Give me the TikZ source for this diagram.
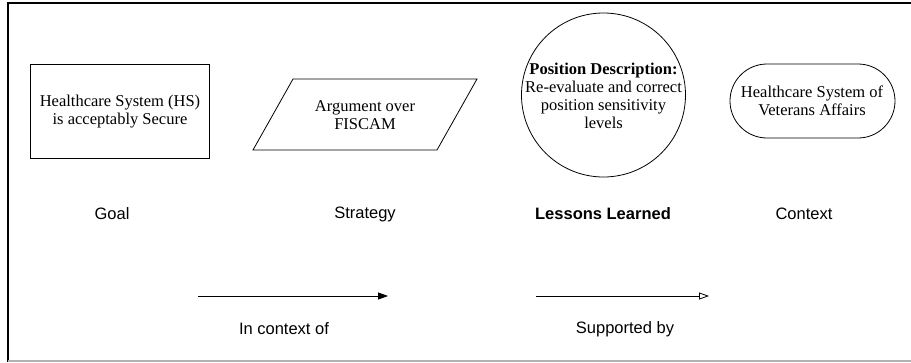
\documentclass[tikz,border=0pt]{standalone}
\usepackage{fontspec}
\setmainfont{Liberation Serif}
\setsansfont{Liberation Sans}
\usetikzlibrary{arrows.meta}
\tikzset{
  shapetext/.style={font=\fontsize{16.5}{18}\selectfont, align=center, inner sep=0pt},
  legendtext/.style={font=\sffamily\fontsize{16.5}{18}\selectfont, inner sep=0pt},
  outline/.style={draw=black, line width=0.8pt},
  linkline/.style={draw=black, line width=0.8pt}
}
\begin{document}
\begin{tikzpicture}[x=1pt,y=-1pt]
\useasboundingbox (0,0) rectangle (911,362);
% frame
\draw[line width=1.2pt, black] (8,362) -- (8,3) -- (911,3);
\draw[line width=1.2pt, gray!60] (8,361) -- (911,361);

% Goal
\node[outline, rectangle, minimum width=179pt, minimum height=94pt, inner sep=0pt] (goal) at (119.5,111) {};
\node[shapetext] (goaltext) at (120,112) {Healthcare System (HS)\\is acceptably Secure};

% Strategy
\coordinate (p1) at (293,79);
\coordinate (p2) at (477,79);
\coordinate (p3) at (437,150);
\coordinate (p4) at (253,150);
\draw[outline] (p1) -- (p2) -- (p3) -- (p4) -- cycle;
\node[shapetext] (strategy) at (365,115) {Argument over\\FISCAM};

% Lessons learned
\node[outline, circle, minimum size=164pt, inner sep=0pt] (lessons) at (603.5,95) {};
\node[shapetext] (lessontext) at (603.5,96) {\textbf{Position Description:}\\Re-evaluate and correct\\position sensitivity\\levels};

% Context
\node[outline, rectangle, rounded corners=37pt, minimum width=165pt, minimum height=74pt, inner sep=0pt] (context) at (812.5,101) {};
\node[shapetext] (contexttext) at (812,101) {Healthcare System of\\Veterans Affairs};

% Labels
\node[legendtext] (lgoal) at (112,214) {Goal};
\node[legendtext] (lstrat) at (365,214) {Strategy};
\node[legendtext, font=\sffamily\bfseries\fontsize{16.5}{18}\selectfont] (llessons) at (603,214) {Lessons Learned};
\node[legendtext] (lcontext) at (804,214) {Context};

% Arrows
\coordinate (a1s) at (198,296);
\coordinate (a1e) at (388,296);
\coordinate (a2s) at (536,296);
\coordinate (a2e) at (709,296);
\draw[linkline, -{Triangle[length=10pt,width=7pt]}] (a1s) -- (a1e);
\draw[linkline, -{Triangle[open,length=10pt,width=7pt]}] (a2s) -- (a2e);
\node[legendtext] (lctx) at (284,329) {In context of};
\node[legendtext] (lsup) at (625,329) {Supported by};
\end{tikzpicture}
\end{document}
